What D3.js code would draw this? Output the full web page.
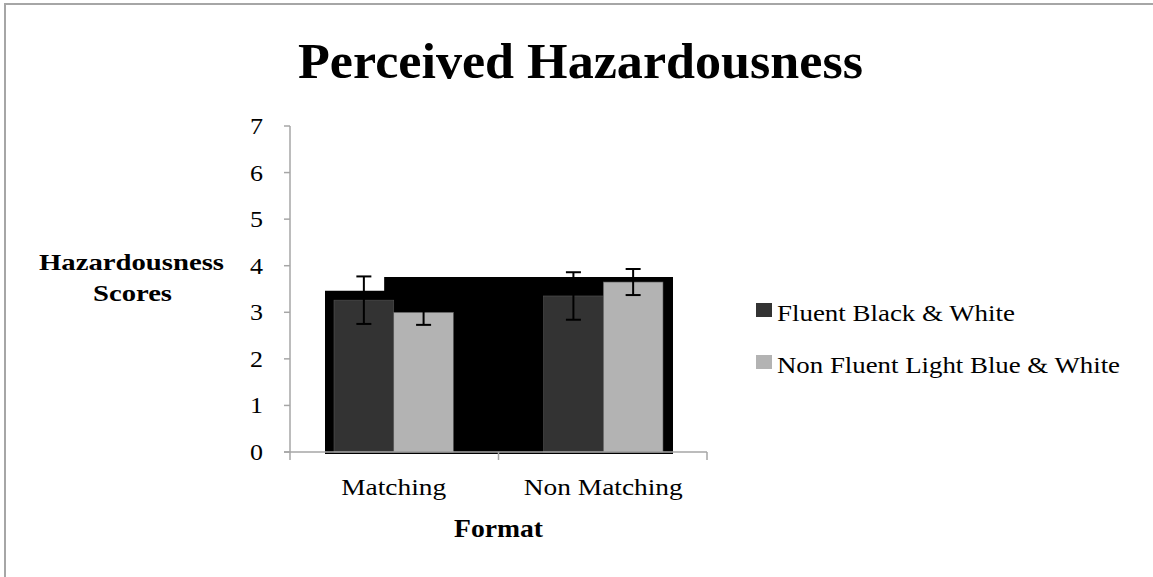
<!DOCTYPE html>
<html><head><meta charset="utf-8">
<script src="https://cdn.jsdelivr.net/npm/d3@7"></script>
<style>body{margin:0;background:#fff}svg{display:block}</style>
</head><body>
<script>
const categories = ["Matching", "Non Matching"];
const seriesNames = ["Fluent Black & White", "Non Fluent Light Blue & White"];
const fluentValues = [3.26, 3.35];
const fluentErrors = [0.51, 0.51];
const nonFluentValues = [3.00, 3.65];
const nonFluentErrors = [0.27, 0.28];
const shadowLevels = [3.46, 3.76];
const yTicks = [0, 1, 2, 3, 4, 5, 6, 7];
const colors = ["#333333", "#b3b3b3"];

const W = 1153, H = 577;
const svg = d3.select("body").append("svg").attr("width", W).attr("height", H);
const FONT = "'Liberation Serif', 'Times New Roman', serif";

// frame
svg.append("rect").attr("x", 5).attr("y", 4).attr("width", W + 20).attr("height", H + 20)
  .attr("fill", "#fff").attr("stroke", "#a6a6a6").attr("stroke-width", 2);

const y = d3.scaleLinear().domain([0, 7]).range([452, 126]);
const x0 = d3.scaleBand().domain(categories).range([290, 707]).paddingInner(0.43).paddingOuter(0.21);
const x1 = d3.scaleBand().domain(seriesNames).range([0, x0.bandwidth()]);

const data = categories.map((c, i) => ({
  cat: c,
  vals: [
    { s: seriesNames[0], v: fluentValues[i], e: fluentErrors[i] },
    { s: seriesNames[1], v: nonFluentValues[i], e: nonFluentErrors[i] }
  ]
}));

// black backdrop
const left = x0(categories[0]) - 9;
const right = x0(categories[1]) + x0.bandwidth() + 10;
const stepX = x0(categories[0]) + x1.bandwidth() * 0.84;
const base = y(0) + 2;
const pts = [[left, base], [left, y(shadowLevels[0])], [stepX, y(shadowLevels[0])], [stepX, y(shadowLevels[1])],
  [right, y(shadowLevels[1])], [right, base]];
svg.append("path").attr("d", d3.line()(pts) + "Z").attr("fill", "#000");

// bars
const g = svg.append("g");
const groups = g.selectAll("g.grp").data(data).join("g").attr("class", "grp")
  .attr("transform", d => `translate(${x0(d.cat)},0)`);
groups.selectAll("rect").data(d => d.vals).join("rect")
  .attr("x", d => x1(d.s)).attr("width", x1.bandwidth())
  .attr("y", d => y(d.v)).attr("height", d => y(0) - y(d.v))
  .attr("fill", (d, i) => colors[i]).attr("stroke", "#555").attr("stroke-width", 0.6);

// axes
const axisColor = "#a6a6a6";
svg.append("line").attr("x1", 290).attr("x2", 290).attr("y1", y(7)).attr("y2", y(0)).attr("stroke", axisColor).attr("stroke-width", 1.5);
svg.append("line").attr("x1", 284).attr("x2", 707).attr("y1", y(0)).attr("y2", y(0)).attr("stroke", axisColor).attr("stroke-width", 1.5);
svg.selectAll("line.yt").data(yTicks).join("line").attr("class", "yt")
  .attr("x1", 284).attr("x2", 290).attr("y1", d => y(d)).attr("y2", d => y(d)).attr("stroke", axisColor).attr("stroke-width", 1.5);
const xTickPos = [290, (x0(categories[0]) + x0.bandwidth() + x0(categories[1])) / 2, 707];
svg.selectAll("line.xt").data(xTickPos).join("line").attr("class", "xt")
  .attr("x1", d => d).attr("x2", d => d).attr("y1", y(0)).attr("y2", y(0) + 8).attr("stroke", axisColor).attr("stroke-width", 1.5);

svg.selectAll("text.yl").data(yTicks).join("text").attr("class", "yl")
  .attr("x", 263).attr("y", d => y(d) + 8).attr("text-anchor", "end")
  .attr("font-family", FONT).attr("font-size", 24).attr("fill", "#000")
  .attr("textLength", 13).attr("lengthAdjust", "spacingAndGlyphs").text(d => d);

// error bars
groups.each(function(d) {
  const gg = d3.select(this);
  d.vals.forEach(v => {
    const cx = x1(v.s) + x1.bandwidth() / 2;
    gg.append("line").attr("x1", cx).attr("x2", cx).attr("y1", y(v.v + v.e)).attr("y2", y(v.v - v.e)).attr("stroke", "#000").attr("stroke-width", 2);
    [v.v + v.e, v.v - v.e].forEach(t => gg.append("line").attr("x1", cx - 7.5).attr("x2", cx + 7.5).attr("y1", y(t)).attr("y2", y(t)).attr("stroke", "#000").attr("stroke-width", 2));
  });
});

// x labels
const xlw = [105, 159];
svg.selectAll("text.xl").data(categories).join("text").attr("class", "xl")
  .attr("x", d => x0(d) + x0.bandwidth() / 2).attr("y", 495).attr("text-anchor", "middle")
  .attr("font-family", FONT).attr("font-size", 24).attr("fill", "#000")
  .attr("textLength", (d, i) => xlw[i]).attr("lengthAdjust", "spacingAndGlyphs").text(d => d);

// titles
svg.append("text").attr("x", 580.5).attr("y", 78).attr("text-anchor", "middle")
  .attr("font-family", FONT).attr("font-weight", "bold").attr("font-size", 50)
  .attr("textLength", 565).attr("lengthAdjust", "spacingAndGlyphs").text("Perceived Hazardousness");
svg.append("text").attr("x", 498.5).attr("y", 537).attr("text-anchor", "middle")
  .attr("font-family", FONT).attr("font-weight", "bold").attr("font-size", 25)
  .attr("textLength", 89).attr("lengthAdjust", "spacingAndGlyphs").text("Format");
svg.append("text").attr("x", 131.5).attr("y", 270).attr("text-anchor", "middle")
  .attr("font-family", FONT).attr("font-weight", "bold").attr("font-size", 24)
  .attr("textLength", 185).attr("lengthAdjust", "spacingAndGlyphs").text("Hazardousness");
svg.append("text").attr("x", 132.5).attr("y", 301).attr("text-anchor", "middle")
  .attr("font-family", FONT).attr("font-weight", "bold").attr("font-size", 24)
  .attr("textLength", 79).attr("lengthAdjust", "spacingAndGlyphs").text("Scores");

// legend
const legW = [238, 343];
const leg = svg.selectAll("g.leg").data(seriesNames).join("g").attr("class", "leg")
  .attr("transform", (d, i) => `translate(756,${303 + i * 52})`);
leg.append("rect").attr("width", 16).attr("height", 14).attr("fill", (d, i) => colors[i]);
leg.append("text").attr("x", 21).attr("y", 18).attr("font-family", FONT).attr("font-size", 24).attr("fill", "#000")
  .attr("textLength", (d, i) => legW[i]).attr("lengthAdjust", "spacingAndGlyphs").text(d => d);
</script>
</body></html>
